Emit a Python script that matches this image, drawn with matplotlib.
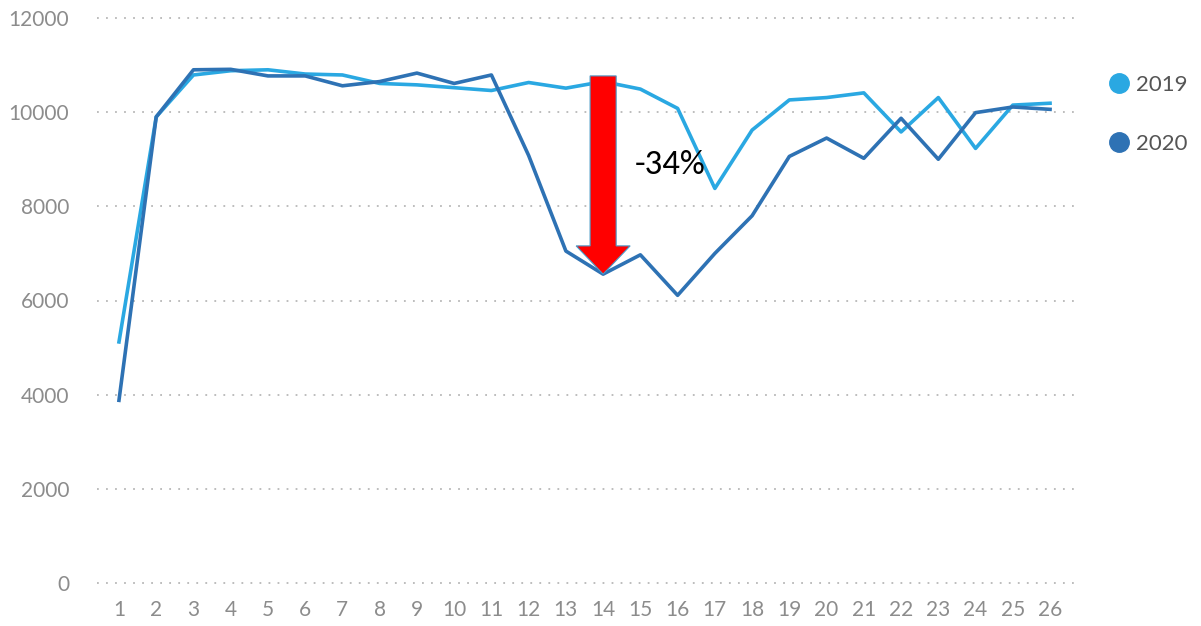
import matplotlib
matplotlib.use("Agg")
import matplotlib.pyplot as plt
from matplotlib.lines import Line2D
from matplotlib.patches import FancyArrow

weeks = list(range(1, 27))
sales_2019 = [5120, 9900, 10790, 10880, 10900, 10810, 10790, 10610, 10580, 10520,
              10460, 10630, 10510, 10650, 10490, 10080, 8380, 9620, 10260, 10310,
              10410, 9580, 10310, 9230, 10150, 10190]
sales_2020 = [3880, 9900, 10900, 10910, 10770, 10770, 10560, 10650, 10830, 10610,
              10790, 9080, 7050, 6560, 6970, 6110, 7000, 7800, 9060, 9450,
              9020, 9870, 9000, 9990, 10110, 10060]
series_labels = ["2019", "2020"]
y_ticks = [0, 2000, 4000, 6000, 8000, 10000, 12000]
drop_week = 14
drop_label = "-34%"

c19 = "#2AA8E2"
c20 = "#2E72B4"

plt.rcParams['font.family'] = ['Lato', 'DejaVu Sans']
fig = plt.figure(figsize=(12.01, 6.26), dpi=100)
ax = fig.add_axes([97/1201, 43/626, 978/1201, 565/626])

ax.plot(weeks, sales_2019, color=c19, lw=2.6, solid_joinstyle='round')
ax.plot(weeks, sales_2020, color=c20, lw=2.6, solid_joinstyle='round')

ax.set_xlim(0.41, 26.67)
ax.set_ylim(0, 12000)
ax.set_yticks(y_ticks)
ax.set_xticks(weeks)
ax.set_xticklabels([str(w) for w in weeks])
for s in ax.spines.values():
    s.set_visible(False)
ax.tick_params(axis='both', length=0, colors='#8C8C8C', labelsize=15)
ax.tick_params(axis='y', pad=20)
ax.tick_params(axis='x', pad=12)
ax.grid(axis='y', linestyle=(0, (1, 4)), color='#B8B8B8', lw=1.3, clip_on=False)
ax.grid(axis='x', visible=False)
for gl in ax.get_ygridlines():
    gl.set_clip_on(False)

# red arrow annotation
top = sales_2020[10] - 20
bottom = sales_2020[drop_week - 1]
arrow = FancyArrow(drop_week, top, 0, bottom - top, width=0.7, head_width=1.45,
                   head_length=600, length_includes_head=True,
                   facecolor='#FF0000', edgecolor='#4A9BC8', lw=0.8, zorder=5)
ax.add_patch(arrow)
ax.text(drop_week + 0.85, 8880, drop_label, fontsize=25, color='black',
        family=['Carlito', 'Lato', 'DejaVu Sans'], va='center', ha='left', zorder=6)

handles = [Line2D([], [], marker='o', ls='none', markersize=14, color=c19),
           Line2D([], [], marker='o', ls='none', markersize=14, color=c20)]
fig.legend(handles, series_labels, loc='upper left', bbox_to_anchor=(1097/1201, 1 - 64/626),
           frameon=False, fontsize=16, labelcolor='#555555', handlelength=1.0,
           handletextpad=0.25, labelspacing=1.75, borderpad=0)

fig.savefig("out.png", dpi=100)
